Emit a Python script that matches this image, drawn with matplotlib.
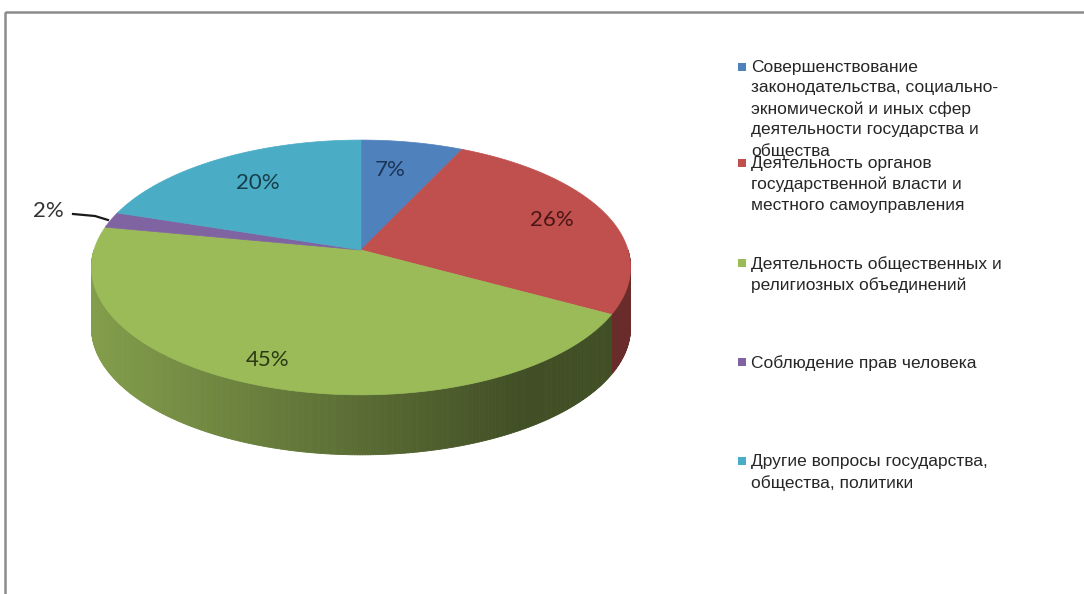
import numpy as np
import matplotlib
matplotlib.use("Agg")
import matplotlib.pyplot as plt
from matplotlib.patches import Polygon, Rectangle
from matplotlib.collections import PolyCollection
from matplotlib.colors import to_rgb

# data (percent)
labels = [
    "Совершенствование\nзаконодательства, социально-\nэкномической и иных сфер\nдеятельности государства и\nобщества",
    "Деятельность органов\nгосударственной власти и\nместного самоуправления",
    "Деятельность общественных и\nрелигиозных объединений",
    "Соблюдение прав человека",
    "Другие вопросы государства,\nобщества, политики",
]
values = [7, 26, 45, 2, 20]
pct_labels = ["7%", "26%", "45%", "2%", "20%"]
colors = ["#4f81bd", "#c0504d", "#9bbb59", "#8064a2", "#4bacc6"]
label_colors = ["#1c3556", "#4a1614", "#2b3a14", "#333333", "#163f4a"]

W, H = 1084, 594
fig = plt.figure(figsize=(W / 100, H / 100), dpi=100)
ax = fig.add_axes([0, 0, 1, 1])
ax.set_xlim(0, W)
ax.set_ylim(H, 0)
ax.axis("off")

# chart frame
ax.add_patch(Rectangle((5, 12), W + 20, H + 20, fill=False, ec="#8c8c8c", lw=1.8))

# pie geometry (pixel space, simple perspective)
cx, cy = 361, 250
rx, ry = 267, 125
k = 0.137
depth = 60


def proj(phi_deg):
    p = np.radians(phi_deg)
    u, v = np.cos(p), np.sin(p)
    s = 1 + k * v
    return cx + rx * u / s, cy - ry * v / s


# angles: start at 12 o'clock, clockwise
bounds = [90.0]
for val in values:
    bounds.append(bounds[-1] - val * 3.6)


def shade(col, f):
    r, g, b = to_rgb(col)
    return (r * f, g * f, b * f)


# side walls (front half only)
quads, qcols = [], []
for i, col in enumerate(colors):
    a0, a1 = bounds[i], bounds[i + 1]
    lo, hi = max(min(a0, a1), -180), min(max(a0, a1), 0)
    if lo >= hi:
        continue
    steps = np.linspace(hi, lo, int((hi - lo) * 2) + 2)
    for p0, p1 in zip(steps[:-1], steps[1:]):
        x0, y0 = proj(p0)
        x1, y1 = proj(p1)
        quads.append([(x0, y0), (x1, y1), (x1, y1 + depth), (x0, y0 + depth)])
        t = (x0 + x1) / 2
        t = (t - (cx - rx)) / (2 * rx)
        f = 0.84 - 0.42 * min(t / 0.8, 1.0)
        if i == 1:
            f = 0.55
        qcols.append(shade(col, f))
ax.add_collection(PolyCollection(quads, facecolors=qcols, edgecolors=qcols, lw=0.6))

# top faces
for i, col in enumerate(colors):
    a0, a1 = bounds[i], bounds[i + 1]
    arc = [proj(a) for a in np.linspace(a0, a1, 200)]
    ax.add_patch(Polygon([(cx, cy)] + arc, closed=True, fc=col, ec=col, lw=0.5))

# percentage labels
label_pos = [(390, 170), (552, 220), (268, 360), (48, 211), (258, 183)]
for (x, y), txt, c in zip(label_pos, pct_labels, label_colors):
    ax.text(x, y, txt, ha="center", va="center", fontsize=16,
            family=["Lato", "DejaVu Sans"], color=c)

# leader line for small slice
ax.plot([73, 95, 108], [214, 216, 220], color="#1a1a1a", lw=1.6)

# legend
legend_y = [67, 163, 263, 362, 461]
for txt, col, y in zip(labels, colors, legend_y):
    ax.add_patch(Rectangle((738, y - 4), 8, 8, fc=col, ec="none"))
    ax.text(751, y - 7, txt, ha="left", va="top", fontsize=12.5,
            family=["Liberation Sans", "DejaVu Sans"], color="#262626",
            linespacing=1.45)

fig.savefig("out.png", dpi=100)
